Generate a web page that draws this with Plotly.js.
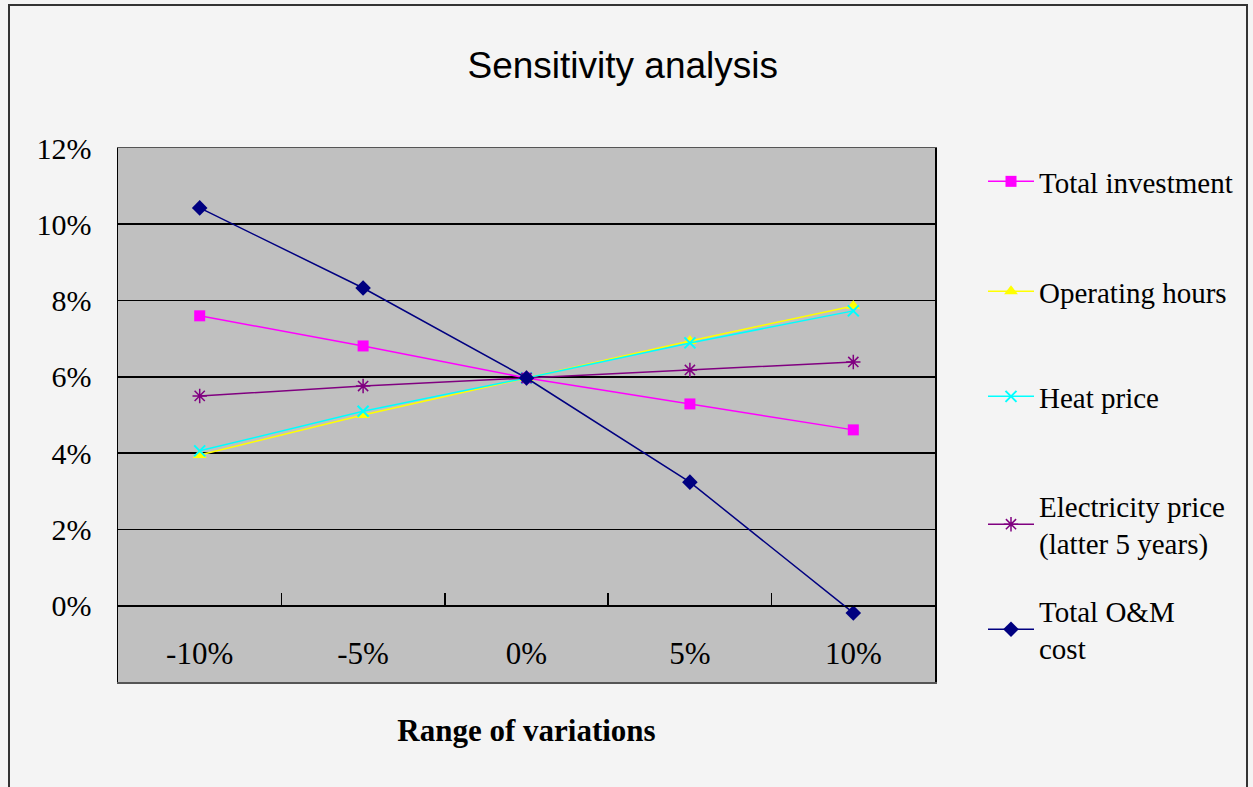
<!DOCTYPE html>
<html>
<head>
<meta charset="utf-8">
<script src="https://cdn.plot.ly/plotly-3.0.1.min.js"></script>
<style>
html,body{margin:0;padding:0;background:#f4f4f4;overflow:hidden;}
#wrap{position:relative;width:1253px;height:787px;}
#chart{position:absolute;left:0;top:0;width:1253px;height:787px;}
#frame{position:absolute;left:8px;top:4px;width:1240px;height:800px;border:2px solid #333;pointer-events:none;box-sizing:border-box;}
</style>
</head>
<body>
<div id="wrap"><div id="chart"></div><div id="frame"></div></div>
<script>
const categories = ['-10%', '-5%', '0%', '5%', '10%'];
const totalInvestment = [7.60, 6.81, 5.97, 5.29, 4.61];
const operatingHours = [3.95, 5.00, 5.97, 6.94, 7.86];
const heatPrice = [4.06, 5.10, 5.97, 6.89, 7.73];
const electricityPrice = [5.50, 5.76, 5.97, 6.18, 6.39];
const totalOM = [10.43, 8.33, 5.97, 3.24, -0.19];
const seriesNames = ['Total investment', 'Operating hours', 'Heat price',
  'Electricity price<br>(latter 5 years)', 'Total O&M<br>cost'];
const yTickVals = [-2, 0, 2, 4, 6, 8, 10, 12];
const yTickText = ['-2%', '0%', '2%', '4%', '6%', '8%', '10%', '12%'];

const serif = 'Liberation Serif, Times New Roman, serif';
const W = 1253, H = 787, ML = 118, MR = 318, MT = 148, MB = 105;
const plotH = H - MT - MB, plotW = W - ML - MR;

function tr(name, y, color, symbol, size, legendId, extra) {
  const t = {
    type: 'scatter', mode: 'lines+markers', name: name, x: categories, y: y,
    legend: legendId,
    line: {color: color, width: 1.5},
    marker: {symbol: symbol, size: size, color: color, line: {color: color, width: 0}},
    hoverinfo: 'x+y+name'
  };
  if (extra) Object.assign(t.marker, extra);
  return t;
}

const traces = [
  tr(seriesNames[0], totalInvestment, '#ff00ff', 'square', 11, 'legend'),
  tr(seriesNames[1], operatingHours, '#ffff00', 'triangle-up', 12, 'legend2'),
  tr(seriesNames[2], heatPrice, '#00ffff', 'x-thin-open', 11, 'legend3', {line: {color: '#00ffff', width: 2}}),
  tr(seriesNames[3], electricityPrice, '#800080', 'asterisk-open', 12, 'legend4', {line: {color: '#800080', width: 1.5}}),
  tr(seriesNames[4], totalOM, '#000080', 'diamond', 12, 'legend5'),
  {type: 'scatter', mode: 'markers', x: categories, y: [null, null, null, null, null], xaxis: 'x2', showlegend: false, hoverinfo: 'skip', marker: {opacity: 0}}
];

function legendAt(firstLineY) {
  return {
    x: (983 - ML) / plotW, xanchor: 'left',
    y: (H - MB - (firstLineY - 27)) / plotH, yanchor: 'top',
    bgcolor: 'rgba(0,0,0,0)',
    font: {family: serif, size: 29, color: '#000'},
    itemwidth: 46
  };
}

const layout = {
  width: W, height: H,
  margin: {l: ML, r: MR, t: MT, b: MB},
  paper_bgcolor: 'rgba(0,0,0,0)',
  plot_bgcolor: '#c0c0c0',
  title: {
    text: 'Sensitivity analysis',
    font: {family: 'Liberation Sans, Arial, sans-serif', size: 37, color: '#000'},
    x: 0.497, xref: 'container', xanchor: 'center',
    y: 0.917, yref: 'container', yanchor: 'middle'
  },
  xaxis: {
    type: 'category', categoryarray: categories, range: [-0.5, 4.5],
    showgrid: false, zeroline: false,
    ticks: '', ticklabelposition: 'inside', ticklabelstandoff: 15,
    tickfont: {family: serif, size: 31, color: '#000'},
    showline: true, linecolor: '#555', linewidth: 1.5, mirror: true,
    title: {text: '<b>Range of variations</b>', font: {family: serif, size: 31, color: '#000'}, standoff: 49}
  },
  xaxis2: {
    type: 'category', categoryarray: categories, range: [-0.5, 4.5],
    overlaying: 'x', anchor: 'free', position: 2 / 14, side: 'bottom',
    showgrid: false, zeroline: false, showticklabels: false,
    ticks: 'inside', tickson: 'boundaries', ticklen: 13, tickwidth: 1.5, tickcolor: '#000',
    showline: true, linecolor: '#000', linewidth: 1.5
  },
  yaxis: {
    range: [-2, 12], tickvals: yTickVals, ticktext: yTickText,
    showgrid: true, gridcolor: '#000', gridwidth: 1.6,
    zeroline: false, ticks: '', ticklabelstandoff: 19,
    tickfont: {family: serif, size: 30, color: '#000'},
    showline: true, linecolor: '#000', linewidth: 1.5, mirror: true
  },
  legend: legendAt(183),
  legend2: legendAt(293),
  legend3: legendAt(398),
  legend4: legendAt(507),
  legend5: legendAt(612),
  showlegend: true
};

Plotly.newPlot('chart', traces, layout, {displayModeBar: false, staticPlot: true});
</script>
</body>
</html>
